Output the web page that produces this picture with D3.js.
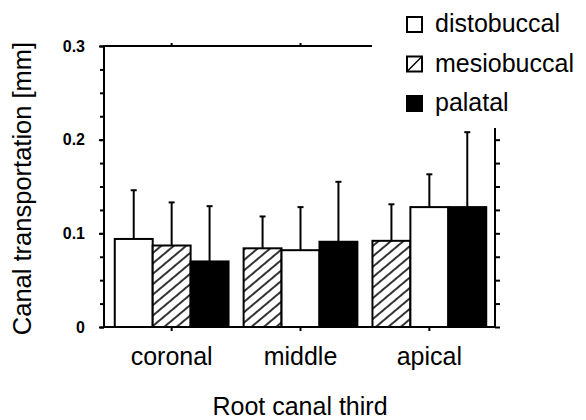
<!DOCTYPE html>
<html>
<head>
<meta charset="utf-8">
<script src="https://cdn.jsdelivr.net/npm/d3@7"></script>
<style>
  body { margin: 0; background: #fff; }
  svg { display: block; }
  svg text { font-family: "Liberation Sans", Arial, Helvetica, sans-serif; }
</style>
</head>
<body>
<script>
const width = 586
const height = 420

// data
const categories = ["coronal", "middle", "apical"]
const series = ["distobuccal", "mesiobuccal", "palatal"]
// bar order inside each group (as printed)
const groupOrder = [
  ["distobuccal", "mesiobuccal", "palatal"],
  ["mesiobuccal", "distobuccal", "palatal"],
  ["mesiobuccal", "distobuccal", "palatal"]
]
const distobuccalMean = [0.094, 0.082, 0.128]
const distobuccalSD = [0.052, 0.046, 0.035]
const mesiobuccalMean = [0.087, 0.084, 0.092]
const mesiobuccalSD = [0.046, 0.034, 0.039]
const palatalMean = [0.070, 0.091, 0.128]
const palatalSD = [0.059, 0.064, 0.080]
const yTicks = [0, 0.1, 0.2, 0.3]
const yMinorTicks = d3.range(0, 0.3001, 0.025)

const means = {distobuccal: distobuccalMean, mesiobuccal: mesiobuccalMean, palatal: palatalMean}
const sds = {distobuccal: distobuccalSD, mesiobuccal: mesiobuccalSD, palatal: palatalSD}

const bars = []
categories.forEach((c, ci) => {
  groupOrder[ci].forEach((s, pos) => {
    bars.push({cat: c, series: s, pos: pos, mean: means[s][ci], sd: sds[s][ci]})
  })
})

const margin = {top: 46, right: 91, bottom: 93, left: 104}
const x0 = margin.left
const x1 = width - margin.right
const yTop = margin.top
const yBot = height - margin.bottom

const x = d3.scaleBand().domain(categories).range([x0 + 2, x1]).paddingInner(0.117).paddingOuter(0.068)
const xs = d3.scaleBand().domain([0, 1, 2]).range([0, x.bandwidth()])
const y = d3.scaleLinear().domain([0, 0.3]).range([yBot, yTop])

const svg = d3.select("body").append("svg").attr("width", width).attr("height", height)

const defs = svg.append("defs")
const hatch = defs.append("pattern")
  .attr("id", "hatch")
  .attr("patternUnits", "userSpaceOnUse")
  .attr("width", 8).attr("height", 8)
  .attr("patternTransform", "rotate(-40)")
hatch.append("rect").attr("width", 8).attr("height", 8).attr("fill", "#fff")
hatch.append("line").attr("x1", 0).attr("x2", 8).attr("y1", 4).attr("y2", 4)
  .attr("stroke", "#000").attr("stroke-width", 1.6)

const fill = {distobuccal: "#fff", mesiobuccal: "url(#hatch)", palatal: "#000"}

// bars
const barG = svg.append("g")
barG.selectAll("rect").data(bars).join("rect")
  .attr("x", d => x(d.cat) + xs(d.pos))
  .attr("width", xs.bandwidth())
  .attr("y", d => y(d.mean))
  .attr("height", d => y(0) - y(d.mean))
  .attr("fill", d => fill[d.series])
  .attr("stroke", "#000")
  .attr("stroke-width", 2)

// error bars (upper only)
const errG = svg.append("g").attr("stroke", "#000").attr("stroke-width", 2)
errG.selectAll("line.v").data(bars).join("line").attr("class", "v")
  .attr("x1", d => x(d.cat) + xs(d.pos) + xs.bandwidth() / 2)
  .attr("x2", d => x(d.cat) + xs(d.pos) + xs.bandwidth() / 2)
  .attr("y1", d => y(d.mean))
  .attr("y2", d => y(d.mean + d.sd))
errG.selectAll("line.c").data(bars).join("line").attr("class", "c")
  .attr("x1", d => x(d.cat) + xs(d.pos) + xs.bandwidth() / 2 - 3)
  .attr("x2", d => x(d.cat) + xs(d.pos) + xs.bandwidth() / 2 + 3)
  .attr("y1", d => y(d.mean + d.sd))
  .attr("y2", d => y(d.mean + d.sd))

// frame
svg.append("rect")
  .attr("x", x0).attr("y", yTop)
  .attr("width", x1 - x0).attr("height", yBot - yTop)
  .attr("fill", "none").attr("stroke", "#000").attr("stroke-width", 2)

function styleAxis(g) {
  g.attr("font-family", null).attr("font-size", null)
  g.select(".domain").remove()
  g.selectAll(".tick line").attr("stroke", "#000").attr("stroke-width", 2)
}

// left axis
svg.append("g").attr("transform", `translate(${x0},0)`)
  .call(d3.axisLeft(y).tickValues(yMinorTicks).tickSize(4).tickFormat(""))
  .call(styleAxis)
svg.append("g").attr("transform", `translate(${x0},0)`)
  .call(d3.axisLeft(y).tickValues(yTicks).tickSize(5).tickPadding(14)
    .tickFormat(d => d === 0 ? "0" : d3.format(".1f")(d)))
  .call(styleAxis)
  .call(g => g.selectAll("text")
    .attr("fill", "#000")
    .style("font-size", "16px")
    .style("font-weight", "bold"))

// right axis
svg.append("g").attr("transform", `translate(${x1},0)`)
  .call(d3.axisRight(y).tickValues(yMinorTicks).tickSize(5).tickFormat(""))
  .call(styleAxis)

// top axis
svg.append("g").attr("transform", `translate(0,${yTop})`)
  .call(d3.axisTop(x).tickSize(3).tickFormat(""))
  .call(styleAxis)

// bottom axis
svg.append("g").attr("transform", `translate(0,${yBot})`)
  .call(d3.axisBottom(x).tickSize(4).tickPadding(16))
  .call(styleAxis)
  .call(g => g.selectAll("text")
    .attr("fill", "#000")
    .style("font-size", "25px"))

// axis titles
svg.append("text")
  .attr("transform", `translate(31,${(yTop + yBot) / 2 + 2}) rotate(-90)`)
  .attr("text-anchor", "middle")
  .style("font-size", "25.5px")
  .text("Canal transportation [mm]")

svg.append("text")
  .attr("x", (x0 + x1) / 2 + 0.5)
  .attr("y", 415)
  .attr("text-anchor", "middle")
  .style("font-size", "25px")
  .text("Root canal third")

// legend (white box covers the frame corner)
const legend = svg.append("g")
legend.append("rect")
  .attr("x", 372).attr("y", 0)
  .attr("width", width - 372).attr("height", 128)
  .attr("fill", "#fff")

const legendY = d3.scalePoint().domain(series).range([32, 111])
const item = legend.selectAll("g.item").data(series).join("g")
  .attr("class", "item")
  .attr("transform", d => `translate(407,${legendY(d)})`)
item.append("rect")
  .attr("x", 0).attr("y", -15)
  .attr("width", 15).attr("height", 15)
  .attr("fill", d => d === "palatal" ? "#000" : "#fff")
  .attr("stroke", "#000").attr("stroke-width", 2)
item.filter(d => d === "mesiobuccal").append("line")
  .attr("x1", 0).attr("y1", 0).attr("x2", 15).attr("y2", -15)
  .attr("stroke", "#000").attr("stroke-width", 1.5)
item.append("text")
  .attr("x", 28).attr("y", 0)
  .style("font-size", "25px")
  .text(d => d)
</script>
</body>
</html>
